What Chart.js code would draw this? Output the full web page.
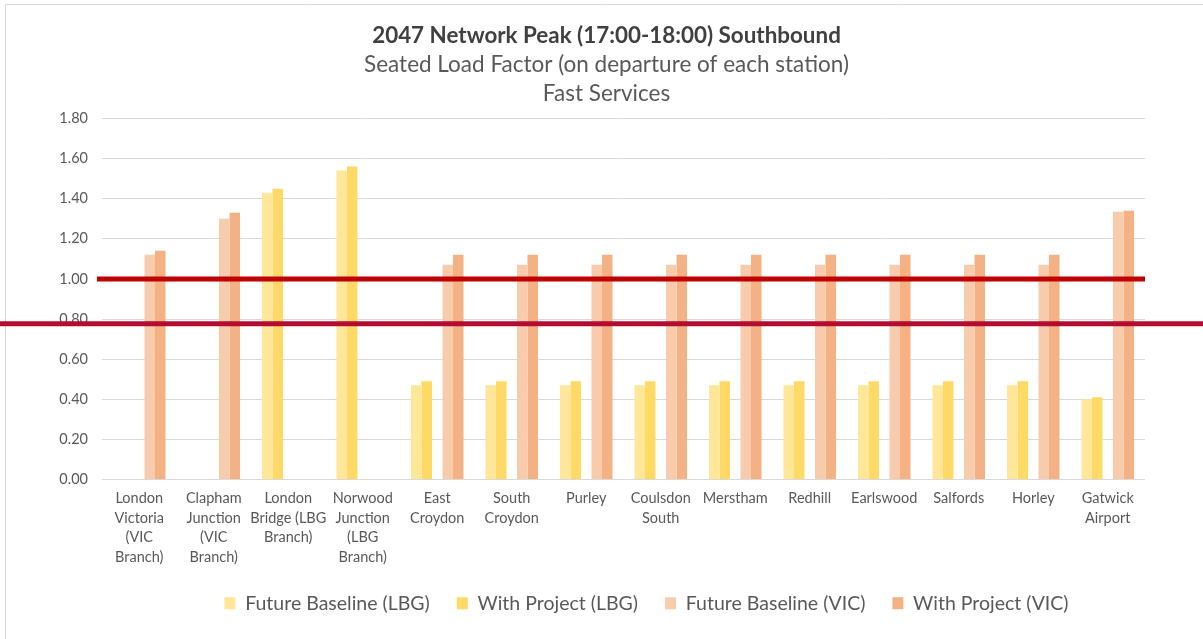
<!DOCTYPE html>
<html>
<head>
<meta charset="utf-8">
<script src="https://cdn.jsdelivr.net/npm/chart.js@4.4.0/dist/chart.umd.min.js"></script>
<style>
  html, body { margin: 0; padding: 0; background: #fff; }
  #wrap { width: 1203px; height: 639px; }
</style>
</head>
<body>
<div id="wrap"><canvas id="chart" width="1203" height="639"></canvas></div>
<script>
// stations (wrapped the way excel wraps them)
const stations = [
  ['London', 'Victoria', '(VIC', 'Branch)'],
  ['Clapham', 'Junction', '(VIC', 'Branch)'],
  ['London', 'Bridge (LBG', 'Branch)'],
  ['Norwood', 'Junction', '(LBG', 'Branch)'],
  ['East', 'Croydon'],
  ['South', 'Croydon'],
  ['Purley'],
  ['Coulsdon', 'South'],
  ['Merstham'],
  ['Redhill'],
  ['Earlswood'],
  ['Salfords'],
  ['Horley'],
  ['Gatwick', 'Airport']
];

const futureBaselineLBG = [null, null, 1.43, 1.54, 0.47, 0.47, 0.47, 0.47, 0.47, 0.47, 0.47, 0.47, 0.47, 0.40];
const withProjectLBG    = [null, null, 1.45, 1.56, 0.49, 0.49, 0.49, 0.49, 0.49, 0.49, 0.49, 0.49, 0.49, 0.41];
const futureBaselineVIC = [1.12, 1.30, null, null, 1.07, 1.07, 1.07, 1.07, 1.07, 1.07, 1.07, 1.07, 1.07, 1.335];
const withProjectVIC    = [1.14, 1.33, null, null, 1.12, 1.12, 1.12, 1.12, 1.12, 1.12, 1.12, 1.12, 1.12, 1.34];
// empty series that makes the gap between the LBG and VIC pairs
const spacer = stations.map(() => null);

const yTicks = [0, 0.2, 0.4, 0.6, 0.8, 1.0, 1.2, 1.4, 1.6, 1.8];

// threshold lines drawn on top
const capacityLine = 1.00;
const comfortLine = 0.777;

const FONT = 'Lato, "Open Sans", sans-serif';

// red lines, the chart frame, and nudging titles/legend right like excel does
const overlay = {
  id: 'overlay',
  afterLayout(chart) {
    chart.legend.left += 74;
    chart.legend.right += 74;
    // title + subtitle boxes
    chart.boxes.forEach(b => {
      if (b.position === 'top' && b.options && b.options.text) {
        b.left += 34;
        b.right += 34;
      }
    });
  },
  beforeDraw(chart) {
    const ctx = chart.ctx;
    ctx.save();
    ctx.strokeStyle = '#D9D9D9';
    ctx.lineWidth = 1;
    ctx.beginPath();
    ctx.moveTo(5.5, chart.height);
    ctx.lineTo(5.5, 4.5);
    ctx.lineTo(chart.width, 4.5);
    ctx.stroke();
    ctx.restore();
  },
  afterDatasetsDraw(chart) {
    const ctx = chart.ctx;
    const y = chart.scales.y;
    const area = chart.chartArea;
    ctx.save();
    ctx.lineWidth = 5;
    ctx.strokeStyle = '#C00000';
    ctx.beginPath();
    ctx.moveTo(area.left - 5, y.getPixelForValue(capacityLine));
    ctx.lineTo(area.right, y.getPixelForValue(capacityLine));
    ctx.stroke();
    ctx.restore();
  },
  afterDraw(chart) {
    const ctx = chart.ctx;
    const y = chart.scales.y;
    ctx.save();
    ctx.lineWidth = 5;
    ctx.strokeStyle = '#B40B30';
    ctx.beginPath();
    ctx.moveTo(0, y.getPixelForValue(comfortLine));
    ctx.lineTo(chart.width, y.getPixelForValue(comfortLine));
    ctx.stroke();
    ctx.restore();
  }
};

new Chart(document.getElementById('chart'), {
  type: 'bar',
  data: {
    labels: stations,
    datasets: [
      { label: 'Future Baseline (LBG)', data: futureBaselineLBG, backgroundColor: '#FFE699' },
      { label: 'With Project (LBG)', data: withProjectLBG, backgroundColor: '#FFD966' },
      { label: '', data: spacer, backgroundColor: 'rgba(0,0,0,0)' },
      { label: 'Future Baseline (VIC)', data: futureBaselineVIC, backgroundColor: '#F8CBAD' },
      { label: 'With Project (VIC)', data: withProjectVIC, backgroundColor: '#F4B183' }
    ]
  },
  options: {
    responsive: false,
    animation: false,
    devicePixelRatio: 1,
    layout: { padding: { left: 0, right: 58, top: 0, bottom: 16 } },
    datasets: {
      bar: { categoryPercentage: 0.705, barPercentage: 1.0, borderWidth: 0 }
    },
    plugins: {
      title: {
        display: true,
        text: '2047 Network Peak (17:00-18:00) Southbound',
        color: '#404040',
        font: { family: FONT, size: 22.4, weight: 'bold', lineHeight: 1.2 },
        padding: { top: 22, bottom: 1 }
      },
      subtitle: {
        display: true,
        text: ['Seated Load Factor (on departure of each station)', 'Fast Services'],
        color: '#595959',
        font: { family: FONT, size: 22.5, lineHeight: 1.29 },
        padding: { top: 0, bottom: 10.5 }
      },
      legend: {
        position: 'bottom',
        labels: {
          color: '#595959',
          font: { family: FONT, size: 19.5 },
          boxWidth: 11,
          boxHeight: 12,
          padding: 27,
          filter: item => item.text !== ''
        }
      },
      tooltip: { enabled: false }
    },
    scales: {
      x: {
        afterFit: scale => { scale.height = 87; },
        grid: { display: false, drawTicks: false },
        border: { display: false },
        ticks: {
          color: '#595959',
          font: { family: FONT, size: 14.5, lineHeight: 1.35 },
          maxRotation: 0,
          autoSkip: false,
          padding: 9
        }
      },
      y: {
        min: 0,
        max: 1.8,
        afterBuildTicks: scale => { scale.ticks = yTicks.map(v => ({ value: v })); },
        afterFit: scale => { scale.width = 102; },
        grid: { color: '#D9D9D9', drawTicks: false },
        border: { display: false },
        ticks: {
          color: '#595959',
          font: { family: FONT, size: 14.5 },
          padding: 14,
          callback: v => v.toFixed(2)
        }
      }
    }
  },
  plugins: [overlay]
});
</script>
</body>
</html>
